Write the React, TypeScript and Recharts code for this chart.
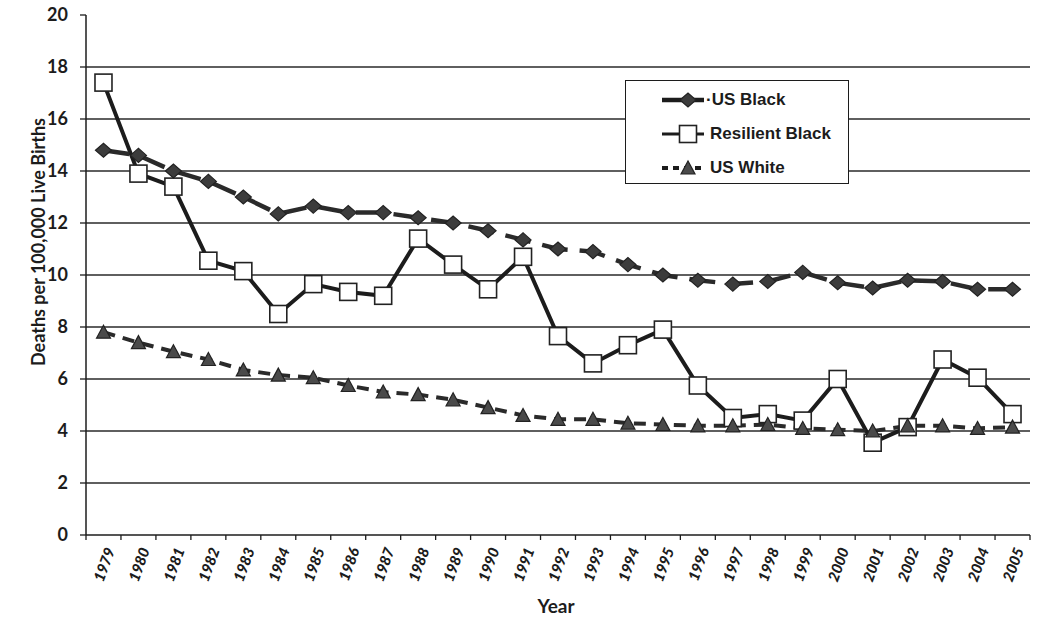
import React from "react";
import { LineChart, Line, XAxis, YAxis, ReferenceLine, Legend } from "recharts";

const years = [
  1979, 1980, 1981, 1982, 1983, 1984, 1985, 1986, 1987, 1988, 1989, 1990, 1991, 1992,
  1993, 1994, 1995, 1996, 1997, 1998, 1999, 2000, 2001, 2002, 2003, 2004, 2005,
];

const usBlack = [
  14.8, 14.6, 14.0, 13.6, 13.0, 12.35, 12.65, 12.4, 12.4, 12.2, 12.0, 11.7, 11.35, 11.0,
  10.9, 10.4, 10.0, 9.8, 9.65, 9.75, 10.1, 9.7, 9.5, 9.8, 9.75, 9.45, 9.45,
];

const resilientBlack = [
  17.4, 13.9, 13.4, 10.55, 10.15, 8.5, 9.65, 9.35, 9.2, 11.4, 10.4, 9.45, 10.7, 7.65,
  6.6, 7.3, 7.9, 5.75, 4.5, 4.65, 4.4, 6.0, 3.55, 4.15, 6.75, 6.05, 4.65,
];

const usWhite = [
  7.8, 7.4, 7.05, 6.75, 6.35, 6.15, 6.05, 5.75, 5.5, 5.4, 5.2, 4.9, 4.6, 4.45,
  4.45, 4.3, 4.25, 4.2, 4.2, 4.25, 4.1, 4.05, 4.0, 4.2, 4.2, 4.1, 4.15,
];

const yTicks = [0, 2, 4, 6, 8, 10, 12, 14, 16, 18, 20];
const gridValues = [2, 4, 6, 8, 10, 12, 14, 16, 18];

const data = years.map((year, i) => ({
  year,
  usBlack: usBlack[i],
  resilientBlack: resilientBlack[i],
  usWhite: usWhite[i],
}));

// labels at each year, tick marks between the years (Excel style)
const xTicks = [...years, ...years.map((y) => y - 0.5), years[years.length - 1] + 0.5].sort(
  (a, b) => a - b
);

const FONT = "Lato, 'Liberation Sans', sans-serif";
const INK = "#1c1c1c";

const diamond = (cx: number, cy: number, key?: string) => (
  <path
    key={key}
    d={`M${cx - 8},${cy} L${cx},${cy - 7} L${cx + 8},${cy} L${cx},${cy + 7} Z`}
    fill="#3c3c3c"
    stroke="#222"
    strokeWidth={1.2}
  />
);

const square = (cx: number, cy: number, key?: string) => (
  <rect
    key={key}
    x={cx - 8.5}
    y={cy - 8.5}
    width={17}
    height={17}
    fill="#fff"
    stroke="#222"
    strokeWidth={1.6}
  />
);

const triangle = (cx: number, cy: number, key?: string) => (
  <path
    key={key}
    d={`M${cx - 7},${cy + 6} L${cx},${cy - 7} L${cx + 7},${cy + 6} Z`}
    fill="#4a4a4a"
    stroke="#222"
    strokeWidth={1.2}
  />
);

const dotOf =
  (shape: (cx: number, cy: number, key?: string) => React.ReactElement) => (props: any) =>
    shape(props.cx, props.cy, `d-${props.index}`);

const XTick = (props: any) => {
  const { x, y, payload } = props;
  const v = payload.value;
  if (!Number.isInteger(v)) {
    return <line x1={x} x2={x} y1={y} y2={y + 5} stroke={INK} strokeWidth={1.3} />;
  }
  const tx = x + 6;
  const ty = y + 13;
  return (
    <text
      x={tx}
      y={ty}
      transform={`rotate(-70 ${tx} ${ty})`}
      textAnchor="end"
      dominantBaseline="central"
      fontFamily={FONT}
      fontWeight={900}
      fontStyle="italic"
      fontSize={15}
      fill={INK}
    >
      {v}
    </text>
  );
};

const legendRows = [
  { label: "·US Black", shape: diamond, dash: "none", w: 4.5 },
  { label: "Resilient Black", shape: square, dash: "none", w: 3 },
  { label: "US White", shape: triangle, dash: "6 5", w: 4 },
];

const LegendBox = () => (
  <div
    style={{
      width: 224,
      height: 104,
      border: `1.5px solid ${INK}`,
      background: "#fff",
      boxSizing: "border-box",
      fontFamily: "'Liberation Sans', Arial, sans-serif",
      fontWeight: 700,
      fontSize: 17,
      color: INK,
      paddingTop: 2,
    }}
  >
    {legendRows.map((r) => (
      <div key={r.label} style={{ display: "flex", alignItems: "center", height: 34 }}>
        <svg width={80} height={20} style={{ display: "block" }}>
          <line
            x1={36}
            x2={78}
            y1={10}
            y2={10}
            stroke={INK}
            strokeWidth={r.w}
            strokeDasharray={r.dash}
          />
          {r.shape(62, 10)}
        </svg>
        <span style={{ marginLeft: r.label.startsWith("·") ? 0 : 4 }}>{r.label}</span>
      </div>
    ))}
  </div>
);

export default function App() {
  return (
    <div style={{ position: "absolute", left: 0, top: 0, width: 1050, height: 625, background: "#fff" }}>
      <LineChart width={1050} height={625} data={data} margin={{ top: 15, right: 20, bottom: 0, left: 0 }}>
        {gridValues.map((g) => (
          <ReferenceLine key={g} y={g} stroke="#2a2a2a" strokeWidth={1.4} ifOverflow="visible" />
        ))}
        <XAxis
          dataKey="year"
          type="number"
          domain={[1978.5, 2005.5]}
          ticks={xTicks}
          interval={0}
          tick={<XTick />}
          tickLine={false}
          tickSize={0}
          tickMargin={0}
          height={90}
          axisLine={{ stroke: INK, strokeWidth: 1.5 }}
          label={() => (
            <text
              x={556}
              y={605}
              textAnchor="middle"
              dominantBaseline="central"
              fontFamily={FONT}
              fontWeight={700}
              fontSize={19}
              fill={INK}
            >
              Year
            </text>
          )}
        />
        <YAxis
          type="number"
          domain={[0, 20]}
          ticks={yTicks}
          interval={0}
          width={86}
          tickSize={6}
          tickMargin={12}
          tickLine={{ stroke: INK, strokeWidth: 1.3 }}
          axisLine={{ stroke: INK, strokeWidth: 1.5 }}
          tick={{ fontFamily: FONT, fontWeight: 700, fontSize: 18, fill: INK }}
          label={() => (
            <text
              x={38}
              y={242}
              transform="rotate(-90 38 242)"
              textAnchor="middle"
              dominantBaseline="central"
              fontFamily={FONT}
              fontWeight={700}
              fontSize={18}
              fill={INK}
            >
              Deaths per 100,000 Live Births
            </text>
          )}
        />
        <Legend
          layout="vertical"
          align="center"
          verticalAlign="middle"
          content={() => <LegendBox />}
          wrapperStyle={{ left: 625, top: 80, width: 224, height: 104 }}
        />
        <Line
          dataKey="resilientBlack"
          name="Resilient Black"
          stroke={INK}
          strokeWidth={4}
          dot={dotOf(square)}
          isAnimationActive={false}
        />
        <Line
          dataKey="usWhite"
          name="US White"
          stroke="#2a2a2a"
          strokeWidth={4}
          strokeDasharray="12 8"
          dot={dotOf(triangle)}
          isAnimationActive={false}
        />
        <Line
          dataKey="usBlack"
          name="US Black"
          stroke="#2a2a2a"
          strokeWidth={4.5}
          strokeDasharray="26 12"
          dot={dotOf(diamond)}
          isAnimationActive={false}
        />
      </LineChart>
    </div>
  );
}
